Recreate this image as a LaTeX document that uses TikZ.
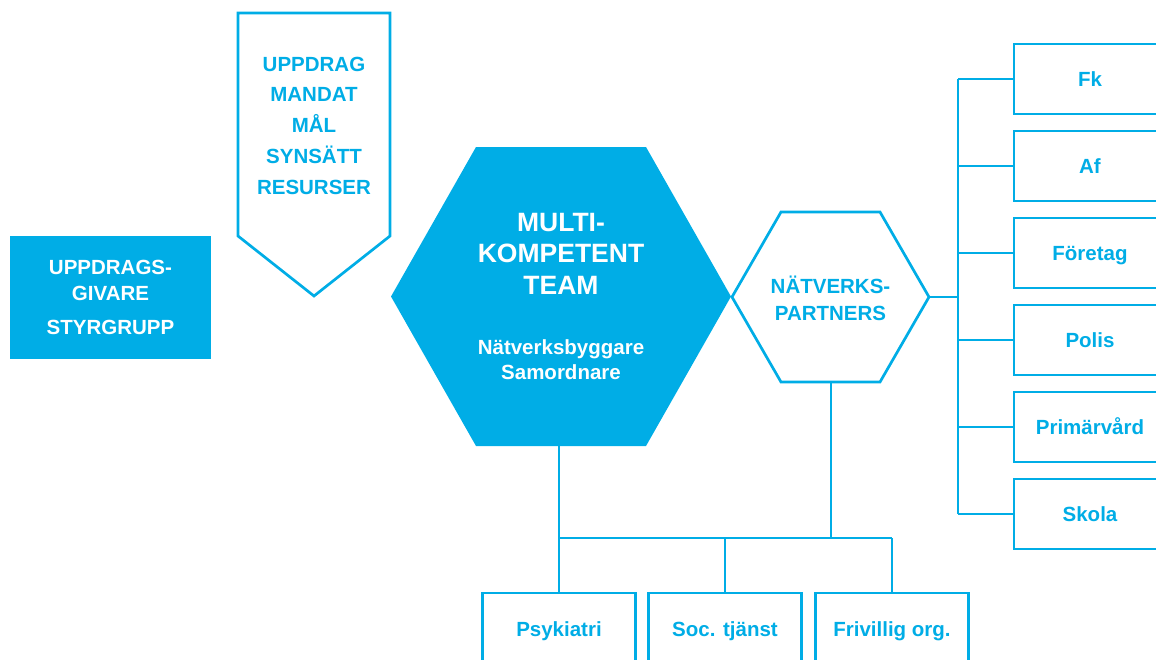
\documentclass[tikz,border=0pt]{standalone}
\usepackage{fontspec}
\setmainfont{Liberation Sans}
\definecolor{cy}{RGB}{0,173,230}
\begin{document}
\begin{tikzpicture}[x=1pt,y=-1pt,
  line/.style={cy, line width=2.7pt},
  lbl/.style={text=cy, font=\bfseries\fontsize{20.5}{25}\selectfont, align=center},
  rbox/.style={draw=cy, line width=2.7pt, fill=white, minimum width=152pt, minimum height=70pt, inner sep=0pt, text height=14.7pt, text depth=0pt, lbl},
  bbox/.style={rbox, minimum width=153pt, minimum height=72pt},
]
\useasboundingbox (0,0) rectangle (1156,659);
\clip (0,0) rectangle (1156,659);

% left box
\node[fill=cy, minimum width=201pt, minimum height=123pt, inner sep=0pt, text=white,
      font=\bfseries\fontsize{20.5}{26}\selectfont, align=center] (giv) at (110.5,297.5)
      {UPPDRAGS-\\GIVARE\\[8pt]STYRGRUPP};

% pentagon arrow
\draw[line, line join=miter, fill=white] (238,13) -- (390,13) -- (390,236) -- (314,296) -- (238,236) -- cycle;
\node[lbl, font=\bfseries\fontsize{20.5}{30.75}\selectfont] (upp) at (314,125.5)
      {UPPDRAG\\MANDAT\\MÅL\\SYNSÄTT\\RESURSER};

% big hexagon
\fill[cy] (391,296.5) -- (476,147) -- (646,147) -- (731,296.5) -- (646,446) -- (476,446) -- cycle;
\node[text=white, font=\bfseries\fontsize{26.5}{31.5}\selectfont, align=center] (mkt) at (561,253.5)
      {MULTI-\\KOMPETENT\\TEAM};
\node[text=white, font=\bfseries\fontsize{20.5}{25}\selectfont, align=center] (roll) at (561,359.5)
      {Nätverksbyggare\\Samordnare};

% small hexagon
\draw[line, line join=miter, fill=white] (732,297) -- (781,212) -- (880,212) -- (929,297) -- (880,382) -- (781,382) -- cycle;
\node[lbl, font=\bfseries\fontsize{20.5}{27}\selectfont] (np) at (830.5,298) {NÄTVERKS-\\PARTNERS};

\coordinate (npr) at (929,297);
\coordinate (npb) at (831,382);
\coordinate (mkb) at (559,446);
\coordinate (sp) at (958,297);
\coordinate (bus) at (0,538);

% right boxes
\node[rbox] (fk) at (1090,79) {Fk};
\node[rbox] (af) at (1090,166) {Af};
\node[rbox] (for) at (1090,253) {Företag};
\node[rbox] (pol) at (1090,340) {Polis};
\node[rbox] (prim) at (1090,427) {Primärvård};
\node[rbox] (sko) at (1090,514) {Skola};

% bottom boxes
\node[bbox] (psyk) at (559,629) {Psykiatri};
\node[bbox] (soc) at (725,629) {Soc. tjänst};
\node[bbox] (friv) at (892,629) {Frivillig org.};

% connectors
\draw[line] (npr) -- (sp);
\draw[line, line cap=square] (sp |- fk.west) -- (sp |- sko.west);
\foreach \b in {fk,af,for,pol,prim,sko} \draw[line] (sp |- \b.west) -- (\b.west);
\draw[line] (mkb) -- (psyk.north);
\draw[line] (npb) -- (npb |- bus);
\draw[line, line cap=square] (psyk.north |- bus) -- (friv.north |- bus);
\draw[line] (soc.north |- bus) -- (soc.north);
\draw[line] (friv.north |- bus) -- (friv.north);
\end{tikzpicture}
\end{document}
